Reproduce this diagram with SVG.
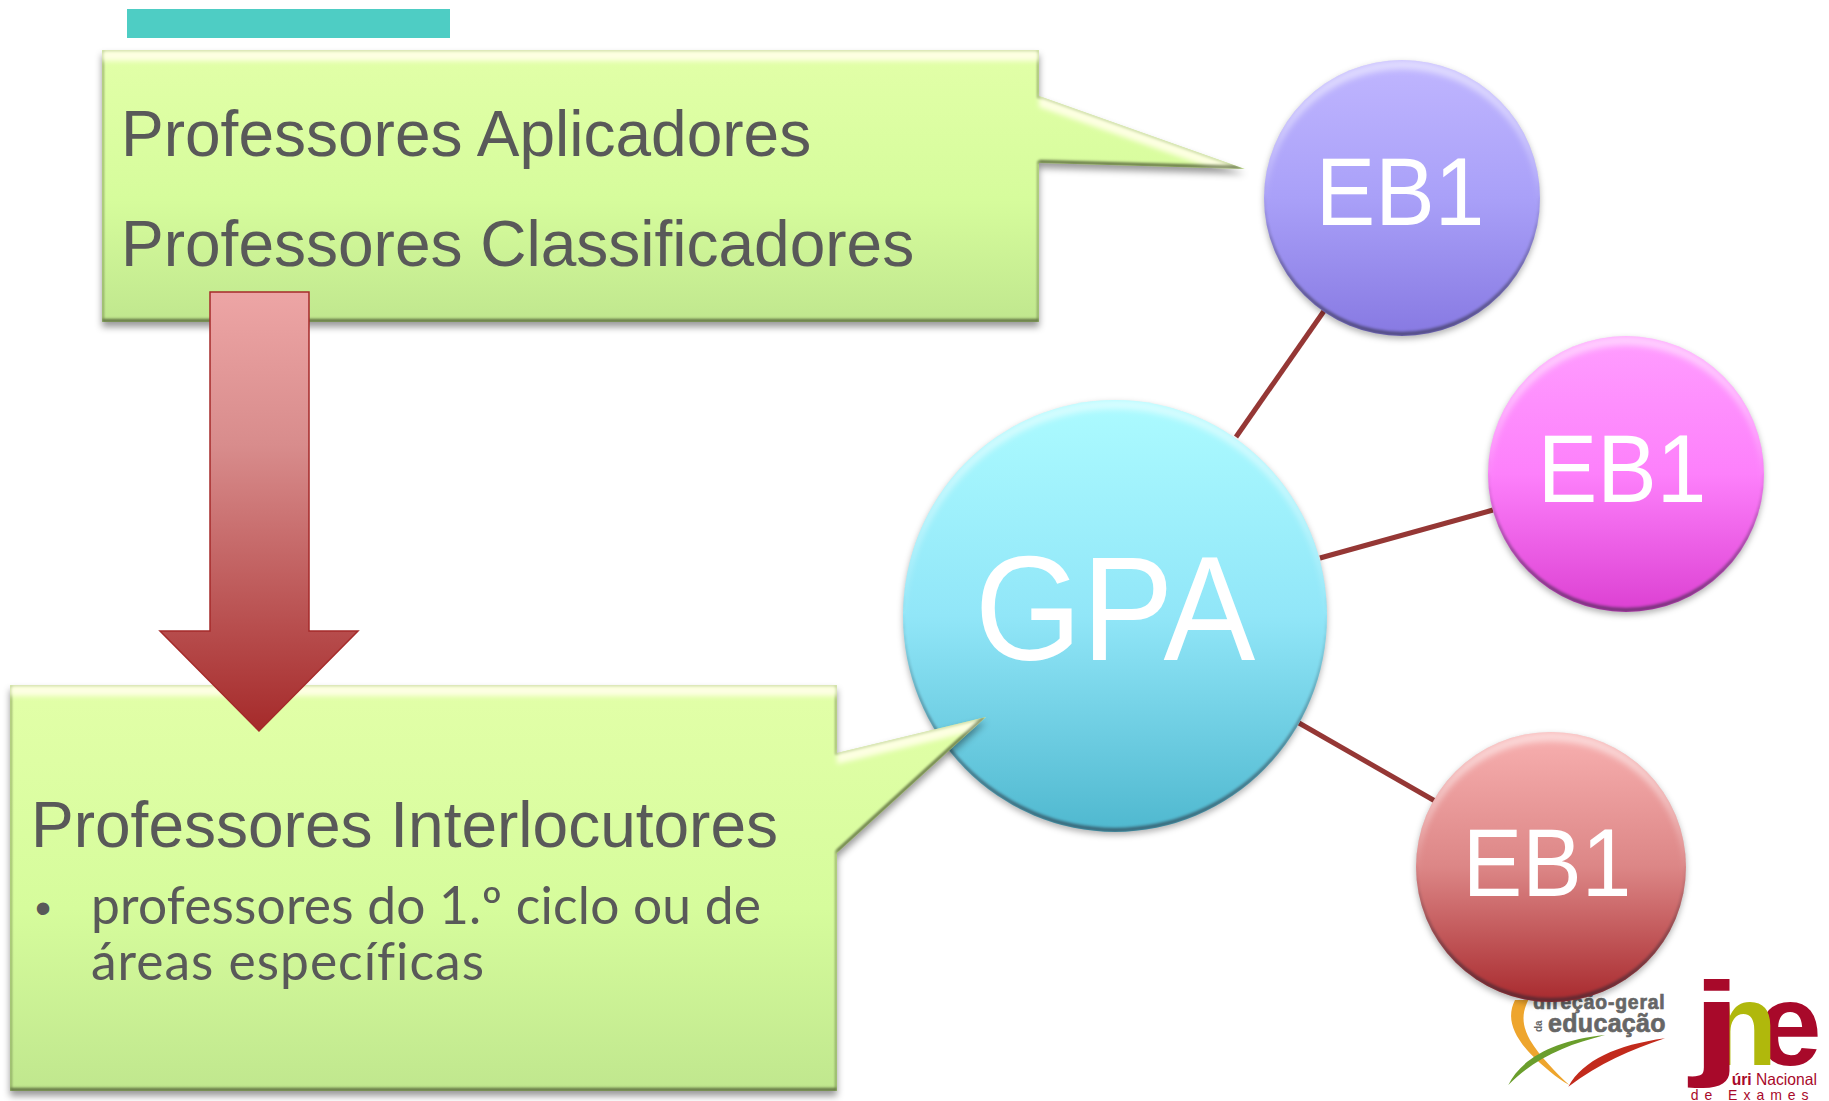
<svg xmlns="http://www.w3.org/2000/svg" width="1829" height="1101" viewBox="0 0 1829 1101">
<style>
.t{font-family:"Liberation Sans",Arial,sans-serif;fill:#595959;font-size:64px}
.b{font-family:"Lato","Open Sans",sans-serif;fill:#595959;font-size:51.5px}
.w{font-family:"Liberation Sans",Arial,sans-serif;fill:#fff;text-anchor:middle}
.eb{font-size:97px}
.lk{stroke:#953735;stroke-width:5;fill:none}
.lg{font-family:"Liberation Sans",Arial,sans-serif}
</style>
<defs>
<linearGradient id="gBox" x1="0" y1="0" x2="0" y2="1"><stop offset="0" stop-color="#e2ffa8"/><stop offset=".55" stop-color="#d6fc9c"/><stop offset="1" stop-color="#c0e78e"/></linearGradient>
<linearGradient id="gBlue" x1="0" y1="0" x2="0" y2="1"><stop offset="0" stop-color="#acfbff"/><stop offset=".5" stop-color="#91e6f8"/><stop offset="1" stop-color="#4fb8cf"/></linearGradient>
<linearGradient id="gPur" x1="0" y1="0" x2="0" y2="1"><stop offset="0" stop-color="#c0b6ff"/><stop offset=".5" stop-color="#a9a0f8"/><stop offset="1" stop-color="#8779e2"/></linearGradient>
<linearGradient id="gPink" x1="0" y1="0" x2="0" y2="1"><stop offset="0" stop-color="#ff9dff"/><stop offset=".5" stop-color="#fd80fb"/><stop offset="1" stop-color="#dc40d2"/></linearGradient>
<linearGradient id="gRed" x1="0" y1="0" x2="0" y2="1"><stop offset="0" stop-color="#f8b0b0"/><stop offset=".5" stop-color="#dc8686"/><stop offset="1" stop-color="#a82a2e"/></linearGradient>
<linearGradient id="gArrow" x1="0" y1="0" x2="0" y2="1"><stop offset="0" stop-color="#eda5a5"/><stop offset=".35" stop-color="#d88c8c"/><stop offset="1" stop-color="#a52a2a"/></linearGradient>
<filter id="bevel" x="-5%" y="-5%" width="110%" height="112%" color-interpolation-filters="sRGB">
<feOffset in="SourceAlpha" dy="11" result="o1"/>
<feComposite in="SourceAlpha" in2="o1" operator="out" result="top"/>
<feGaussianBlur in="top" stdDeviation="2.5"/>
<feComposite in2="SourceAlpha" operator="in"/>
<feColorMatrix type="matrix" values="0 0 0 0 1  0 0 0 0 1  0 0 0 0 .9  0 0 0 .95 0" result="hi"/>
<feOffset in="SourceAlpha" dy="-3" result="o2"/>
<feComposite in="SourceAlpha" in2="o2" operator="out"/>
<feGaussianBlur stdDeviation="1.5"/>
<feComposite in2="SourceAlpha" operator="in"/>
<feColorMatrix type="matrix" values="0 0 0 0 .3  0 0 0 0 .35  0 0 0 0 .2  0 0 0 .8 0" result="lo"/>
<feMorphology in="SourceAlpha" operator="erode" radius="2" result="er"/>
<feComposite in="SourceAlpha" in2="er" operator="out"/>
<feGaussianBlur stdDeviation="1"/>
<feComposite in2="SourceAlpha" operator="in"/>
<feColorMatrix type="matrix" values="0 0 0 0 .35  0 0 0 0 .42  0 0 0 0 .22  0 0 0 .55 0" result="rim"/>
<feGaussianBlur in="SourceAlpha" stdDeviation="3.5"/>
<feOffset dy="5"/>
<feColorMatrix type="matrix" values="0 0 0 0 0  0 0 0 0 0  0 0 0 0 0  0 0 0 .4 0" result="sh"/>
<feMerge><feMergeNode in="sh"/><feMergeNode in="SourceGraphic"/><feMergeNode in="rim"/><feMergeNode in="hi"/><feMergeNode in="lo"/></feMerge>
</filter>
<filter id="bevelC" x="-5%" y="-5%" width="110%" height="112%" color-interpolation-filters="sRGB">
<feOffset in="SourceAlpha" dy="9" result="o1"/>
<feComposite in="SourceAlpha" in2="o1" operator="out"/>
<feGaussianBlur stdDeviation="3"/>
<feComposite in2="SourceAlpha" operator="in"/>
<feColorMatrix type="matrix" values="0 0 0 0 1  0 0 0 0 1  0 0 0 0 1  0 0 0 .55 0" result="hi"/>
<feOffset in="SourceAlpha" dy="-4" result="o2"/>
<feComposite in="SourceAlpha" in2="o2" operator="out"/>
<feGaussianBlur stdDeviation="1.5"/>
<feComposite in2="SourceAlpha" operator="in"/>
<feColorMatrix type="matrix" values="0 0 0 0 .15  0 0 0 0 .15  0 0 0 0 .2  0 0 0 .6 0" result="lo"/>
<feGaussianBlur in="SourceAlpha" stdDeviation="3"/>
<feOffset dy="3"/>
<feColorMatrix type="matrix" values="0 0 0 0 0  0 0 0 0 0  0 0 0 0 0  0 0 0 .3 0" result="sh"/>
<feMerge><feMergeNode in="sh"/><feMergeNode in="SourceGraphic"/><feMergeNode in="hi"/><feMergeNode in="lo"/></feMerge>
</filter>
</defs>

<g id="connectors">
<line class="lk" x1="1236" y1="437" x2="1324" y2="311"/>
<line class="lk" x1="1320" y1="558" x2="1493" y2="510"/>
<line class="lk" x1="1299" y1="723" x2="1435" y2="801"/>
</g>

<rect id="teal-bar" x="127" y="9" width="323" height="29" fill="#4ecdc4"/>

<g id="logo-dge" transform="translate(1450 950) scale(.3333)">
<path d="M195 150C170 200 185 250 240 310C280 350 320 385 358 405C320 370 270 320 240 270C215 225 215 190 235 150Z" fill="#eea52d"/>
<path d="M175 405C210 330 310 270 465 255C350 285 260 320 175 405Z" fill="#6a9e2c"/>
<path d="M355 410C400 330 500 285 645 265C540 300 450 340 355 410Z" fill="#c22a1c"/>
<text class="lg" x="250" y="178" font-size="58" font-weight="700" fill="#666" stroke="#666" stroke-width="2" letter-spacing="2.5">direção-geral</text>
<text class="lg" x="294" y="245" font-size="75" font-weight="700" fill="#666" stroke="#666" stroke-width="2" letter-spacing="1">educação</text>
<text class="lg" transform="translate(277 246) rotate(-90)" font-size="30" font-weight="700" fill="#666">da</text>
</g>
<g id="logo-jne" transform="translate(1450 950) scale(.3333)">
<text class="lg" x="920" y="345" font-size="350" font-weight="700" fill="#a8092a">e</text>
<text class="lg" x="769" y="345" font-size="350" font-weight="700" fill="#b0b80c">n</text>
<text class="lg" transform="translate(722 342) scale(1.6 1)" font-size="350" font-weight="700" fill="#a8092a">j</text>
<text class="lg" x="845" y="405" font-size="47" fill="#a8092a"><tspan font-weight="700">úri</tspan> Nacional</text>
<text class="lg" x="722" y="449" font-size="42" fill="#a8092a" letter-spacing="18">de  Exames</text>
</g>

<g id="node-gpa">
<ellipse cx="1115" cy="616" rx="212" ry="216" fill="url(#gBlue)" filter="url(#bevelC)"/>
<text class="w" transform="translate(1115 660) scale(.93 1)" font-size="148">GPA</text>
</g>
<g id="node-eb1-a">
<circle cx="1402" cy="198" r="138" fill="url(#gPur)" filter="url(#bevelC)"/>
<text class="w eb" transform="translate(1400 225) scale(.92 1)">EB1</text>
</g>
<g id="node-eb1-b">
<circle cx="1626" cy="474" r="138" fill="url(#gPink)" filter="url(#bevelC)"/>
<text class="w eb" transform="translate(1622 502) scale(.92 1)">EB1</text>
</g>
<g id="node-eb1-c">
<circle cx="1551" cy="867" r="135" fill="url(#gRed)" filter="url(#bevelC)"/>
<text class="w eb" transform="translate(1547 896) scale(.92 1)">EB1</text>
</g>

<g id="node-top">
<path d="M102 50H1039V96L1245 169L1039 163V322H102Z" fill="url(#gBox)" filter="url(#bevel)"/>
<text class="t" x="121" y="156">Professores Aplicadores</text>
<text class="t" x="121" y="266">Professores Classificadores</text>
</g>
<g id="node-bottom">
<path d="M10 685H837V753L986 717L837 853V1091H10Z" fill="url(#gBox)" filter="url(#bevel)"/>
<text class="t" x="31" y="847">Professores Interlocutores</text>
<text class="lg" x="35" y="924" font-size="46" fill="#595959">•</text>
<text class="b" x="91" y="924" letter-spacing=".2">professores do 1.º ciclo ou de</text>
<text class="b" x="91" y="980" letter-spacing="1">áreas específicas</text>
</g>
<g id="arrow">
<path d="M210 292H309V631H358L259 731L160 631H210Z" fill="url(#gArrow)" stroke="#a52a2a" stroke-width="1.5"/>
</g>
</svg>
